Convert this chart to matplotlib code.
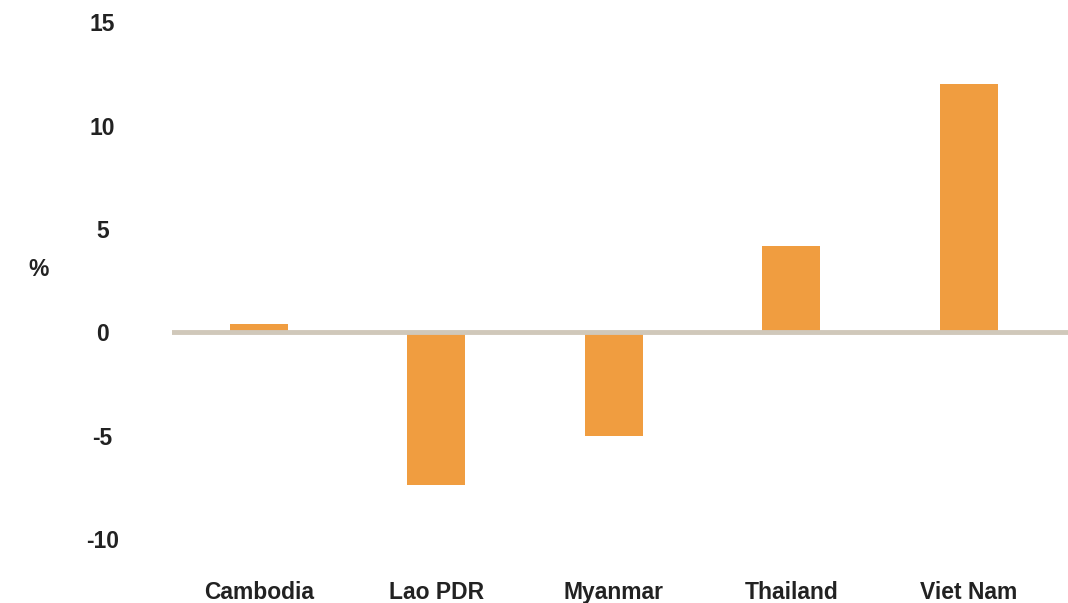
import matplotlib.pyplot as plt

plt.rcParams['font.family'] = ['Liberation Sans', 'DejaVu Sans']

countries = ['Cambodia', 'Lao PDR', 'Myanmar', 'Thailand', 'Viet Nam']
values = [0.4, -7.4, -5.0, 4.2, 12.0]
yticks = [-10, -5, 0, 5, 10, 15]

fig = plt.figure(figsize=(10.68, 6.03), dpi=100)
ax = fig.add_axes([0.161, 0.106, 0.839, 0.857])

x = range(len(countries))
ax.bar(x, values, width=0.327, color='#F09D40', zorder=2)
ax.axhline(0, color='#D0C8BA', linewidth=3.5, zorder=3)

ax.set_xlim(-0.49, 4.56)
ax.set_ylim(-10, 15)
ax.set_xticks(list(x))
ax.set_xticklabels(countries)
ax.set_yticks(yticks)
ax.set_yticklabels([str(t) for t in yticks])

for lab in ax.get_xticklabels() + ax.get_yticklabels():
    lab.set_fontweight('bold')
    lab.set_fontsize(16.5)
    lab.set_color('#222222')
for lab in ax.get_yticklabels():
    lab.set_horizontalalignment('center')

ax.tick_params(axis='x', length=0, pad=30)
ax.tick_params(axis='y', length=0, pad=50)
for s in ax.spines.values():
    s.set_visible(False)

fig.text(39 / 1068, 1 - 270 / 603, '%', fontsize=16.5, fontweight='bold',
         color='#222222', ha='center', va='center')

fig.savefig('out.png', dpi=100)
